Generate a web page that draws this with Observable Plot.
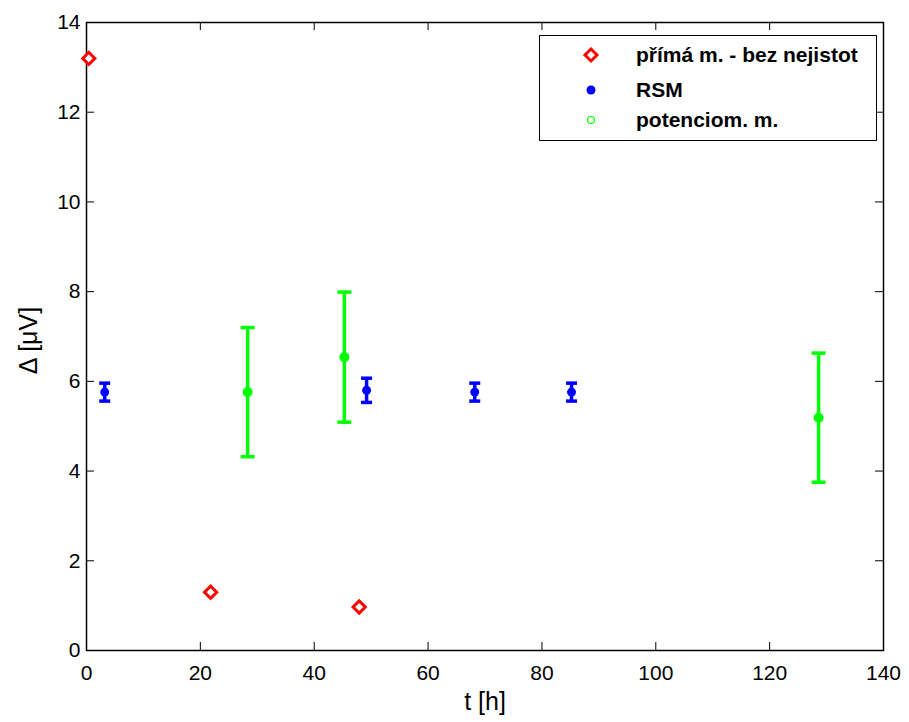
<!DOCTYPE html>
<html><head><meta charset="utf-8">
<script src="https://cdn.jsdelivr.net/npm/d3@7"></script>
<script src="https://cdn.jsdelivr.net/npm/@observablehq/plot@0.6"></script>
<style>
body{margin:0;background:#fff;}
#wrap{position:relative;width:909px;height:722px;font-family:Arial,"Liberation Sans",sans-serif;}
#legend{position:absolute;left:539px;top:35px;width:338px;height:106px;border:1px solid #000;background:#fff;box-sizing:border-box;}
.row{position:absolute;left:0;height:30px;width:100%;display:flex;align-items:center;}
.row svg{position:absolute;left:41px;}
.row span{position:absolute;left:96px;font-weight:bold;font-size:21px;white-space:nowrap;color:#000;}
</style>
</head><body>
<div id="wrap"></div>
<script>
// data
const primaT = [0.4, 21.8, 47.9];
const primaD = [13.2, 1.3, 0.97];
const rsmT = [3.2, 49.2, 68.2, 85.2];
const rsmD = [5.76, 5.80, 5.76, 5.76];
const rsmErr = [0.2, 0.27, 0.2, 0.2];
const potT = [28.3, 45.3, 128.6];
const potD = [5.76, 6.54, 5.19];
const potErr = [1.44, 1.45, 1.44];
const xTicks = [0, 20, 40, 60, 80, 100, 120, 140];
const yTicks = [0, 2, 4, 6, 8, 10, 12, 14];
const xLabel = "t [h]";
const yLabel = "Δ [μV]";
const legendLabels = ["přímá m. - bez nejistot", "RSM", "potenciom. m."];

const prima = primaT.map((t, i) => ({t, d: primaD[i]}));
const rsm = rsmT.map((t, i) => ({t, d: rsmD[i], e: rsmErr[i]}));
const pot = potT.map((t, i) => ({t, d: potD[i], e: potErr[i]}));

const W = 909, H = 722, mL = 86, mR = 26, mT = 22, mB = 72;
const fw = W - mL - mR, fh = H - mT - mB, tk = 8;
const capSym = {draw(ctx, size) { const w = Math.sqrt(size / Math.PI); ctx.moveTo(-w, 0); ctx.lineTo(w, 0); }};

const chart = Plot.plot({
  width: W, height: H, marginLeft: mL, marginRight: mR, marginTop: mT, marginBottom: mB,
  x: {domain: [0, 140]}, y: {domain: [0, 14]},
  style: {fontFamily: "Arial, 'Liberation Sans', sans-serif", background: "white", color: "black"},
  marks: [
    Plot.axisX({ticks: xTicks, tickSize: 0, tickPadding: 15, fontSize: 21, label: null}),
    Plot.axisY({ticks: yTicks, tickSize: 0, tickPadding: 6, fontSize: 21, label: null}),
    Plot.ruleX(xTicks, {x: d => d, insetTop: fh - tk, stroke: "black"}),
    Plot.ruleX(xTicks, {x: d => d, insetBottom: fh - tk, stroke: "black"}),
    Plot.ruleY(yTicks, {y: d => d, insetRight: fw - tk, stroke: "black"}),
    Plot.ruleY(yTicks, {y: d => d, insetLeft: fw - tk, stroke: "black"}),
    Plot.frame({stroke: "black", strokeWidth: 1.5}),
    Plot.text([xLabel], {text: d => d, frameAnchor: "bottom", textAnchor: "middle", dy: 59, fontSize: 25}),
    Plot.text([yLabel], {text: d => d, frameAnchor: "left", textAnchor: "middle", rotate: -90, dx: -58, dy: 4, fontSize: 25}),
    // potenciom. m.
    Plot.ruleX(pot, {x: "t", y1: d => d.d - d.e, y2: d => d.d + d.e, stroke: "#00ff00", strokeWidth: 3.5}),
    Plot.dot(pot, {x: "t", y: d => d.d - d.e, symbol: capSym, r: 7, stroke: "#00ff00", strokeWidth: 3.5}),
    Plot.dot(pot, {x: "t", y: d => d.d + d.e, symbol: capSym, r: 7, stroke: "#00ff00", strokeWidth: 3.5}),
    Plot.dot(pot, {x: "t", y: "d", r: 5, fill: "#00ff00"}),
    // RSM
    Plot.ruleX(rsm, {x: "t", y1: d => d.d - d.e, y2: d => d.d + d.e, stroke: "#0000ff", strokeWidth: 3.5}),
    Plot.dot(rsm, {x: "t", y: d => d.d - d.e, symbol: capSym, r: 5.5, stroke: "#0000ff", strokeWidth: 3.5}),
    Plot.dot(rsm, {x: "t", y: d => d.d + d.e, symbol: capSym, r: 5.5, stroke: "#0000ff", strokeWidth: 3.5}),
    Plot.dot(rsm, {x: "t", y: "d", r: 4.5, fill: "#0000ff"}),
    // přímá
    Plot.dot(prima, {x: "t", y: "d", symbol: "diamond2", r: 5.5, stroke: "#ff0000", strokeWidth: 3, fill: "white"})
  ]
});
const wrap = document.getElementById("wrap");
wrap.appendChild(chart);

const leg = document.createElement("div");
leg.id = "legend";
const rowTops = [4, 39, 69];
const markers = [
  '<svg width="20" height="20" viewBox="-10 -10 20 20"><path d="M0,-6L6,0L0,6L-6,0Z" fill="white" stroke="#ff0000" stroke-width="3"/></svg>',
  '<svg width="20" height="20" viewBox="-10 -10 20 20"><circle r="4.5" fill="#0000ff"/></svg>',
  '<svg width="20" height="20" viewBox="-10 -10 20 20"><circle r="3.5" fill="none" stroke="#00ff00" stroke-width="1.2"/></svg>'
];
legendLabels.forEach((lab, i) => {
  const r = document.createElement("div");
  r.className = "row";
  r.style.top = rowTops[i] + "px";
  r.innerHTML = markers[i] + "<span>" + lab + "</span>";
  leg.appendChild(r);
});
wrap.appendChild(leg);
</script>
</body></html>
